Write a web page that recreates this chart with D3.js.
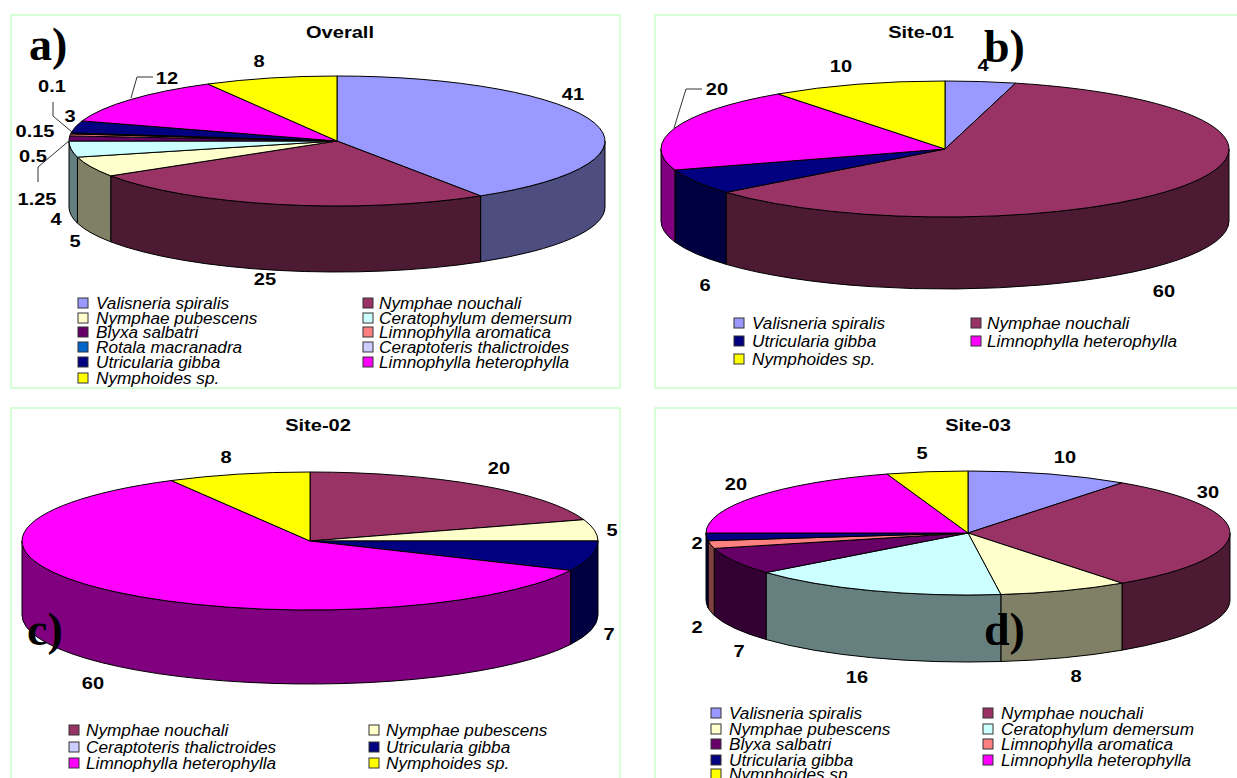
<!DOCTYPE html>
<html>
<head>
<meta charset="utf-8">
<script src="https://cdn.jsdelivr.net/npm/d3@7"></script>
<style>
  html, body { margin: 0; padding: 0; background: #fff; overflow: hidden; }
  svg { display: block; }
  text { font-family: "Liberation Sans", Arial, sans-serif; fill: #000; }
</style>
</head>
<body>
<svg id="chart" width="1237" height="778"></svg>
<script>
// species and colours
const species = ['Valisneria spiralis', 'Nymphae nouchali', 'Nymphae pubescens', 'Ceratophylum demersum',
  'Blyxa salbatri', 'Limnophylla aromatica', 'Rotala macranadra', 'Ceraptoteris thalictroides',
  'Utricularia gibba', 'Limnophylla heterophylla', 'Nymphoides sp.']
const speciesColors = ['#9999ff', '#993366', '#ffffcc', '#ccffff', '#660066', '#ff8080', '#0066cc', '#ccccff',
  '#000080', '#ff00ff', '#ffff00']

// slices, clockwise from 12 o'clock
const overallSpecies = ['Valisneria spiralis', 'Nymphae nouchali', 'Nymphae pubescens', 'Ceratophylum demersum',
  'Blyxa salbatri', 'Limnophylla aromatica', 'Rotala macranadra', 'Ceraptoteris thalictroides',
  'Utricularia gibba', 'Limnophylla heterophylla', 'Nymphoides sp.']
const overallValues = [41, 25, 5, 4, 1.25, 0.5, 0.15, 0.1, 3, 12, 8]

const site01Species = ['Valisneria spiralis', 'Nymphae nouchali', 'Utricularia gibba', 'Limnophylla heterophylla', 'Nymphoides sp.']
const site01Values = [4, 60, 6, 20, 10]

const site02Species = ['Nymphae nouchali', 'Nymphae pubescens', 'Utricularia gibba', 'Limnophylla heterophylla', 'Nymphoides sp.']
const site02Values = [20, 5, 7, 60, 8]

const site03Species = ['Valisneria spiralis', 'Nymphae nouchali', 'Nymphae pubescens', 'Ceratophylum demersum',
  'Blyxa salbatri', 'Limnophylla aromatica', 'Utricularia gibba', 'Limnophylla heterophylla', 'Nymphoides sp.']
const site03Values = [10, 30, 8, 16, 7, 2, 2, 20, 5]

// legend rows, left column then right column reading across
const overallLegend = ['Valisneria spiralis', 'Nymphae nouchali', 'Nymphae pubescens', 'Ceratophylum demersum',
  'Blyxa salbatri', 'Limnophylla aromatica', 'Rotala macranadra', 'Ceraptoteris thalictroides',
  'Utricularia gibba', 'Limnophylla heterophylla', 'Nymphoides sp.']
const site01Legend = ['Valisneria spiralis', 'Nymphae nouchali', 'Utricularia gibba', 'Limnophylla heterophylla', 'Nymphoides sp.']
const site02Legend = ['Nymphae nouchali', 'Nymphae pubescens', 'Ceraptoteris thalictroides', 'Utricularia gibba',
  'Limnophylla heterophylla', 'Nymphoides sp.']
const site03Legend = ['Valisneria spiralis', 'Nymphae nouchali', 'Nymphae pubescens', 'Ceratophylum demersum',
  'Blyxa salbatri', 'Limnophylla aromatica', 'Utricularia gibba', 'Limnophylla heterophylla', 'Nymphoides sp.']

let color = d3.scaleOrdinal(species, speciesColors)
let sideColor = name => {
  let c = d3.rgb(color(name))
  return d3.rgb(c.r * 0.5, c.g * 0.5, c.b * 0.5)
}

// the original picture is stretched sideways, its text too
const textStretch = 1.18

// layout of the four panels, labels are hand placed like in the original
const panels = [
  {
    title: 'Overall', titleX: 340, titleY: 32, tag: 'a)', tagX: 29, tagY: 60,
    box: [11, 15, 609, 373],
    names: overallSpecies, values: overallValues, legend: overallLegend,
    cx: 337, cy: 141, rx: 268, ry: 65, depth: 66,
    labelXY: [[573, 94], [265, 279], [75, 241], [56, 219], [37, 199], [33, 156], [35, 131], [52, 86], [70, 116], [167, 78], [259, 61]],
    leaders: [[[131, 98], [137, 77], [153, 77]], [[53, 102], [53, 116], [72, 132]], [[70, 140], [38, 167], [38, 182]]],
    legendX: [78, 363], legendTextX: [96, 379], legendY: [303, 318, 332, 347, 362, 378]
  },
  {
    title: 'Site-01', titleX: 921, titleY: 32, tag: 'b)', tagX: 984, tagY: 62,
    box: [655, 15, 640, 373],
    names: site01Species, values: site01Values, legend: site01Legend,
    cx: 945, cy: 149, rx: 284, ry: 68, depth: 72,
    labelXY: [[983, 65], [1164, 291], [705, 285], [717, 89], [841, 66]],
    leaders: [[[674, 128], [686, 89], [702, 89]]],
    legendX: [734, 971], legendTextX: [752, 987], legendY: [323, 341, 359]
  },
  {
    title: 'Site-02', titleX: 318, titleY: 425, tag: 'c)', tagX: 27, tagY: 645,
    box: [11, 408, 609, 420],
    names: site02Species, values: site02Values, legend: site02Legend,
    cx: 310, cy: 541, rx: 288, ry: 69, depth: 74,
    labelXY: [[499, 468], [612, 530], [609, 634], [93, 683], [226, 457]],
    leaders: [],
    legendX: [69, 369], legendTextX: [86, 386], legendY: [730, 747, 763]
  },
  {
    title: 'Site-03', titleX: 978, titleY: 425, tag: 'd)', tagX: 984, tagY: 645,
    box: [655, 408, 640, 420],
    names: site03Species, values: site03Values, legend: site03Legend,
    cx: 968, cy: 533, rx: 262, ry: 62, depth: 67,
    labelXY: [[1065, 457], [1208, 492], [1076, 676], [857, 677], [739, 651], [697, 627], [697, 543], [736, 484], [922, 453]],
    leaders: [],
    legendX: [711, 983], legendTextX: [729, 1001], legendY: [713, 729, 744, 760, 774]
  }
]

let svg = d3.select('#chart')
let stretched = (x, y) => `translate(${x},${y}) scale(${textStretch},1)`

let drawPanel = p => {
  let g = svg.append('g')

  g.append('rect')
    .attr('x', p.box[0]).attr('y', p.box[1])
    .attr('width', p.box[2]).attr('height', p.box[3])
    .attr('fill', '#fff')
    .attr('stroke', '#ccffcc')
    .attr('stroke-width', 1.6)

  let slices = d3.pie().sort(null)(p.values)
    .map((d, i) => ({ ...d, name: p.names[i] }))

  // point on the rim of the ellipse, angle clockwise from 12 o'clock
  let rim = (a, drop = 0) => [p.cx + p.rx * Math.sin(a), p.cy - p.ry * Math.cos(a) + drop]

  // outer wall, only the part that faces the viewer
  let sidePath = d => {
    let s = Math.max(d.startAngle, Math.PI / 2)
    let e = Math.min(d.endAngle, Math.PI * 1.5)
    if (s >= e) return null
    let [x0, y0] = rim(s)
    let [x1, y1] = rim(e)
    return `M${x0},${y0}A${p.rx},${p.ry} 0 0 1 ${x1},${y1}` +
      `L${x1},${y1 + p.depth}A${p.rx},${p.ry} 0 0 0 ${x0},${y0 + p.depth}Z`
  }

  g.selectAll('.side')
    .data(slices.filter(d => sidePath(d)))
    .enter()
    .append('path')
    .attr('class', 'side')
    .attr('d', sidePath)
    .attr('fill', d => sideColor(d.name))
    .attr('stroke', '#000')
    .attr('stroke-width', 1)

  let arc = d3.arc().innerRadius(0).outerRadius(p.rx)
  g.append('g')
    .attr('transform', `translate(${p.cx},${p.cy}) scale(1,${p.ry / p.rx})`)
    .selectAll('.top')
    .data(slices)
    .enter()
    .append('path')
    .attr('class', 'top')
    .attr('d', arc)
    .attr('fill', d => color(d.name))
    .attr('stroke', '#000')
    .attr('stroke-width', 1)
    .attr('vector-effect', 'non-scaling-stroke')

  g.selectAll('.leader')
    .data(p.leaders)
    .enter()
    .append('path')
    .attr('class', 'leader')
    .attr('d', d3.line())
    .attr('fill', 'none')
    .attr('stroke', '#333')
    .attr('stroke-width', 1)

  g.selectAll('.value')
    .data(slices)
    .enter()
    .append('text')
    .attr('class', 'value')
    .attr('transform', (d, i) => stretched(p.labelXY[i][0], p.labelXY[i][1]))
    .attr('text-anchor', 'middle')
    .attr('dominant-baseline', 'central')
    .style('font-size', '17px')
    .style('font-weight', 'bold')
    .text(d => d.value)

  g.append('text')
    .attr('transform', stretched(p.titleX, p.titleY))
    .attr('text-anchor', 'middle')
    .attr('dominant-baseline', 'central')
    .style('font-size', '17px')
    .style('font-weight', 'bold')
    .text(p.title)

  let rowsX = i => i % 2
  let rowsY = i => p.legendY[Math.floor(i / 2)]
  let items = g.selectAll('.legend-item')
    .data(p.legend)
    .enter()
    .append('g')
    .attr('class', 'legend-item')

  items.append('rect')
    .attr('x', (d, i) => p.legendX[rowsX(i)])
    .attr('y', (d, i) => rowsY(i) - 5)
    .attr('width', 10)
    .attr('height', 10)
    .attr('fill', d => color(d))
    .attr('stroke', '#333')
    .attr('stroke-width', 1)

  items.append('text')
    .attr('x', (d, i) => p.legendTextX[rowsX(i)])
    .attr('y', (d, i) => rowsY(i))
    .attr('dominant-baseline', 'central')
    .style('font-size', '17.2px')
    .style('font-style', 'italic')
    .text(d => d)

  g.append('text')
    .attr('x', p.tagX).attr('y', p.tagY)
    .style('font-family', '"Liberation Serif", "Times New Roman", serif')
    .style('font-size', '46px')
    .style('font-weight', 'bold')
    .text(p.tag)
}

panels.forEach(drawPanel)
</script>
</body>
</html>
